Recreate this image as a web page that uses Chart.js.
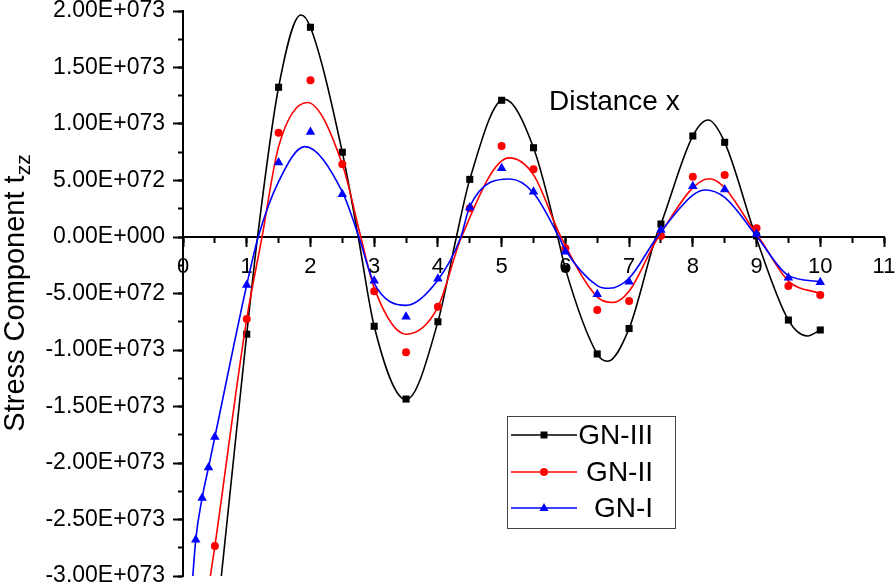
<!DOCTYPE html>
<html>
<head>
<meta charset="utf-8">
<script src="https://cdn.jsdelivr.net/npm/chart.js@4.4.1/dist/chart.umd.min.js"></script>
<style>
  html, body { margin: 0; padding: 0; background: #fff; }
  #wrap { width: 896px; height: 585px; position: relative; }
</style>
</head>
<body>
<div id="wrap"><canvas id="chart"></canvas></div>
<script>
// values in units of 1E+073

// ---- markers ----
const xMarks = [1, 1.5, 2, 2.5, 3, 3.5, 4, 4.5, 5, 5.5, 6, 6.5, 7, 7.5, 8, 8.5, 9, 9.5, 10];
const gn3Marks = [-0.86, 1.325, 1.856, 0.75, -0.79, -1.434, -0.75, 0.51, 1.21, 0.79, -0.28, -1.035, -0.81, 0.115, 0.894, 0.838, 0.01, -0.735, -0.823];
const gn2Marks = [-0.726, 0.923, 1.387, 0.643, -0.48, -1.02, -0.617, 0.254, 0.805, 0.60, -0.10, -0.646, -0.566, 0.01, 0.534, 0.549, 0.077, -0.434, -0.513];
const gn1Marks = [-0.425, 0.66, 0.93, 0.378, -0.387, -0.705, -0.37, 0.26, 0.608, 0.40, -0.13, -0.507, -0.395, 0.062, 0.45, 0.42, 0.027, -0.36, -0.40];
// extra points near the origin
const gn2NearX = [0.5];
const gn2NearY = [-2.735];
const gn1NearX = [0.2, 0.3, 0.4, 0.5];
const gn1NearY = [-2.68, -2.31, -2.04, -1.77];

// ---- fitted curves ----
const gn3CurveX = [0.5, 0.75, 1, 1.17, 1.5, 1.85, 2, 2.5, 2.75, 3, 3.5, 4, 4.29, 4.5, 5.04, 5.5, 5.88, 6, 6.5, 6.66, 7, 7.42, 7.5, 8, 8.24, 8.5, 8.99, 9.5, 9.8, 10];
const gn3CurveY = [-3.55, -2.2, -0.86, 0, 1.325, 1.965, 1.856, 0.75, 0, -0.79, -1.44, -0.75, 0, 0.51, 1.22, 0.79, 0, -0.28, -1.035, -1.10, -0.81, 0, 0.115, 0.894, 1.035, 0.838, 0, -0.735, -0.876, -0.823];
const gn2CurveX = [0.35, 0.5, 1, 1.24, 1.5, 1.95, 2.5, 2.79, 3, 3.5, 4, 4.37, 5.12, 5.5, 5.93, 6.5, 6.74, 7, 7.46, 8.26, 9.03, 9.5, 10];
const gn2CurveY = [-3.3, -2.735, -0.726, 0, 0.80, 1.19, 0.643, 0, -0.45, -0.86, -0.62, 0, 0.70, 0.55, 0, -0.53, -0.58, -0.48, 0, 0.516, 0, -0.39, -0.50];
const gn1CurveX = [0.1, 0.2, 0.3, 0.4, 0.5, 1, 1.18, 1.5, 1.91, 2.5, 2.76, 3, 3.5, 4, 4.36, 4.5, 5.13, 5.5, 5.9, 6, 6.5, 6.69, 7, 7.44, 8, 8.2, 8.5, 9.01, 9.5, 10];
const gn1CurveY = [-3.43, -2.68, -2.31, -2.04, -1.77, -0.425, 0, 0.49, 0.80, 0.40, 0, -0.41, -0.605, -0.38, 0, 0.27, 0.513, 0.39, 0, -0.115, -0.43, -0.454, -0.365, 0, 0.37, 0.416, 0.35, 0, -0.34, -0.395];

const FONT = "'Liberation Sans', Arial, sans-serif";
const pts = (xs, ys) => xs.map((x, i) => ({ x, y: ys[i] }));

// 1.50E+073 style labels
function fmtE(v) {
    if (Math.abs(v) < 1e-9) return '0.00E+000';
    const e = Math.abs(v) >= 1 - 1e-9 ? 73 : 72;
    const m = v * Math.pow(10, 73 - e);
    return m.toFixed(2) + 'E+' + String(e).padStart(3, '0');
}

const SERIES = [
    { label: 'GN-III', color: '#000000', style: 'rect', radius: 5 },
    { label: 'GN-II', color: '#ff0000', style: 'circle', radius: 4 },
    { label: 'GN-I', color: '#0000ff', style: 'triangle', radius: 5.5 }
];

// ---- titles + boxed legend ----
const decorPlugin = {
    id: 'decor',
    afterDraw(chart) {
        const ctx = chart.ctx;
        ctx.save();
        // y title with subscript
        ctx.fillStyle = '#000';
        ctx.translate(24, 293);
        ctx.rotate(-Math.PI / 2);
        ctx.font = `29px ${FONT}`;
        const main = 'Stress Component t';
        const wMain = ctx.measureText(main).width;
        ctx.font = `21px ${FONT}`;
        const wSub = ctx.measureText('zz').width;
        const x0 = -(wMain + wSub) / 2;
        ctx.textBaseline = 'alphabetic';
        ctx.textAlign = 'left';
        ctx.font = `29px ${FONT}`;
        ctx.fillText(main, x0, 0);
        ctx.font = `21px ${FONT}`;
        ctx.fillText('zz', x0 + wMain, 6);
        ctx.restore();

        // x title inside the plot
        ctx.save();
        ctx.fillStyle = '#000';
        ctx.font = `28px ${FONT}`;
        ctx.textBaseline = 'alphabetic';
        ctx.fillText('Distance x', 549, 110);
        ctx.restore();

        // legend box
        ctx.save();
        ctx.strokeStyle = '#444';
        ctx.lineWidth = 1;
        ctx.strokeRect(507.5, 416.5, 168, 112);
        const rows = [435, 472, 508];
        SERIES.forEach((s, i) => {
            const y = rows[i];
            ctx.strokeStyle = s.color;
            ctx.fillStyle = s.color;
            ctx.lineWidth = 1.6;
            ctx.beginPath();
            ctx.moveTo(511, y);
            ctx.lineTo(577, y);
            ctx.stroke();
            ctx.beginPath();
            if (s.style === 'rect') {
                ctx.rect(544 - 3.5, y - 3.5, 7, 7);
            } else if (s.style === 'circle') {
                ctx.arc(544, y, 4, 0, Math.PI * 2);
            } else {
                ctx.moveTo(544, y - 5);
                ctx.lineTo(544 + 4.6, y + 3);
                ctx.lineTo(544 - 4.6, y + 3);
                ctx.closePath();
            }
            ctx.fill();
            ctx.fillStyle = '#000';
            ctx.font = `28px ${FONT}`;
            ctx.textAlign = 'right';
            ctx.textBaseline = 'middle';
            ctx.fillText(s.label, 653, y + 1);
        });
        ctx.restore();
    }
};

function markerSet(s, xs, ys, order) {
    return {
        type: 'scatter', label: s.label, data: pts(xs, ys), order,
        pointStyle: s.style, pointRadius: s.radius, pointHoverRadius: s.radius,
        backgroundColor: s.color, borderColor: s.color, borderWidth: 0, showLine: false
    };
}

function curveSet(s, xs, ys, order) {
    return {
        type: 'line', label: s.label + ' fit', data: pts(xs, ys), order,
        borderColor: s.color, borderWidth: 1.6, pointRadius: 0, pointHoverRadius: 0,
        cubicInterpolationMode: 'monotone', fill: false
    };
}

const zeroFit = s => { s.height = 0; s.paddingLeft = 0; s.paddingRight = 0; };

new Chart(document.getElementById('chart'), {
    data: {
        datasets: [
            markerSet(SERIES[2], gn1NearX.concat(xMarks), gn1NearY.concat(gn1Marks), 1),
            curveSet(SERIES[2], gn1CurveX, gn1CurveY, 2),
            markerSet(SERIES[1], gn2NearX.concat(xMarks), gn2NearY.concat(gn2Marks), 3),
            curveSet(SERIES[1], gn2CurveX, gn2CurveY, 4),
            markerSet(SERIES[0], xMarks, gn3Marks, 5),
            curveSet(SERIES[0], gn3CurveX, gn3CurveY, 6)
        ]
    },
    options: {
        responsive: true,
        maintainAspectRatio: false,
        animation: false,
        devicePixelRatio: 1,
        layout: { padding: { left: 0, top: 11, right: 12, bottom: 9 } },
        plugins: { legend: { display: false }, tooltip: { enabled: false } },
        scales: {
            x: {
                type: 'linear', position: { y: 0 }, min: 0, max: 11,
                ticks: { stepSize: 1, color: '#000', font: { family: FONT, size: 22 }, padding: 8, maxRotation: 0, autoSkip: false },
                grid: { drawOnChartArea: false, tickLength: 9, tickWidth: 2, tickColor: '#000' },
                border: { color: '#000', width: 2 },
                afterFit: zeroFit
            },
            x2: {
                type: 'linear', position: { y: 0 }, min: 0, max: 11,
                ticks: { stepSize: 0.5, display: false },
                grid: { drawOnChartArea: false, tickLength: 6, tickWidth: 2, tickColor: '#000' },
                border: { display: false },
                afterFit: zeroFit
            },
            y: {
                type: 'linear', position: 'left', weight: 10, min: -3, max: 2,
                ticks: { stepSize: 0.5, callback: v => fmtE(v), color: '#000', font: { family: FONT, size: 23 }, padding: 8 },
                grid: { drawOnChartArea: false, tickLength: 10, tickWidth: 2, tickColor: '#000' },
                border: { color: '#000', width: 2 },
                afterFit: s => { s.width = 183; s.paddingTop = 0; s.paddingBottom = 0; }
            },
            y2: {
                type: 'linear', position: 'left', weight: 0, min: -3, max: 2,
                ticks: { stepSize: 0.25, display: false },
                grid: { drawOnChartArea: false, tickLength: 5, tickWidth: 2, tickColor: '#000' },
                border: { display: false },
                afterFit: s => { s.width = 0; s.paddingTop = 0; s.paddingBottom = 0; }
            }
        }
    },
    plugins: [decorPlugin]
});
</script>
</body>
</html>
